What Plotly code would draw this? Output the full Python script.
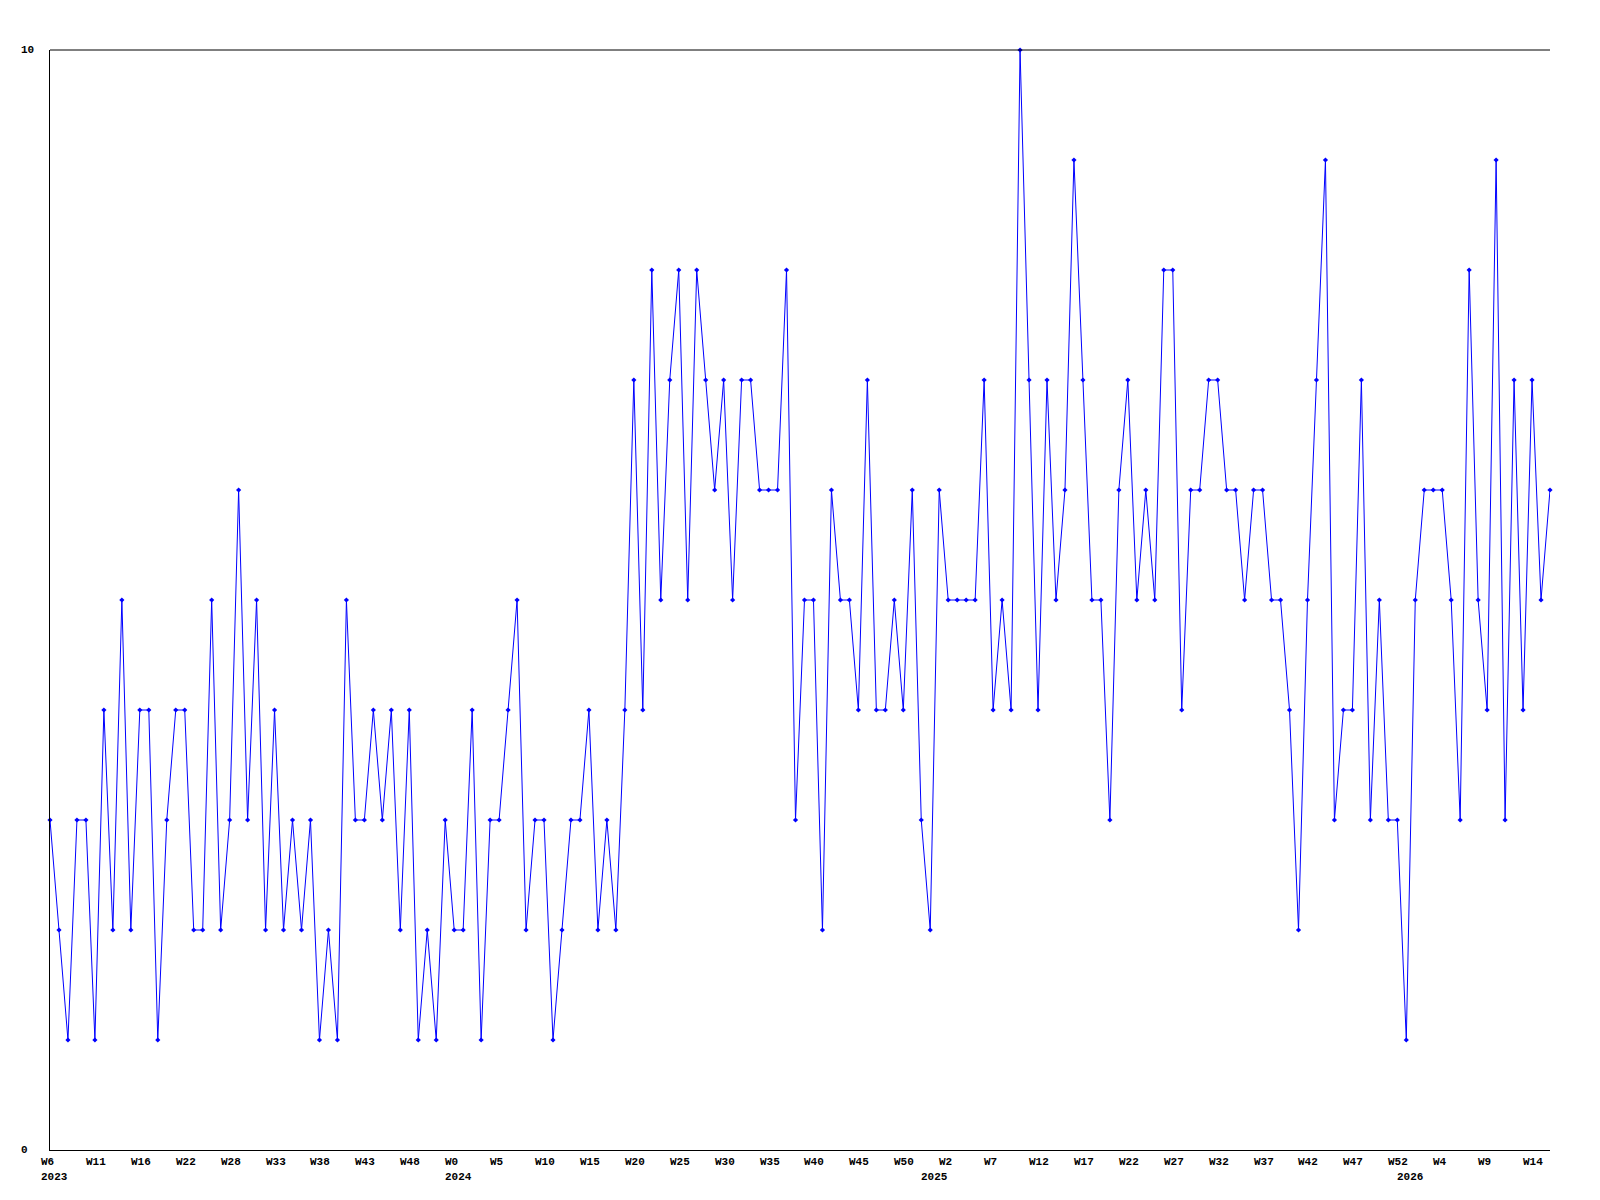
import plotly.graph_objects as go

# Weekly values, 2023 W6 .. 2026 W16 (168 points)
values = [
    3, 2, 1, 3, 3, 1, 4, 2, 5, 2,
    4, 4, 1, 3, 4, 4, 2, 2, 5, 2,
    3, 6, 3, 5, 2, 4, 2, 3, 2, 3,
    1, 2, 1, 5, 3, 3, 4, 3, 4, 2,
    4, 1, 2, 1, 3, 2, 2, 4, 1, 3,
    3, 4, 5, 2, 3, 3, 1, 2, 3, 3,
    4, 2, 3, 2, 4, 7, 4, 8, 5, 7,
    8, 5, 8, 7, 6, 7, 5, 7, 7, 6,
    6, 6, 8, 3, 5, 5, 2, 6, 5, 5,
    4, 7, 4, 4, 5, 4, 6, 3, 2, 6,
    5, 5, 5, 5, 7, 4, 5, 4, 10, 7,
    4, 7, 5, 6, 9, 7, 5, 5, 3, 6,
    7, 5, 6, 5, 8, 8, 4, 6, 6, 7,
    7, 6, 6, 5, 6, 6, 5, 5, 4, 2,
    5, 7, 9, 3, 4, 4, 7, 3, 5, 3,
    3, 1, 5, 6, 6, 6, 5, 3, 8, 5,
    4, 9, 3, 7, 4, 7, 5, 6,
]

# x tick labels, one every 5 points
tick_labels = [
    "W6", "W11", "W16", "W22", "W28", "W33", "W38", "W43", "W48",
    "W0", "W5", "W10", "W15", "W20", "W25", "W30", "W35", "W40", "W45", "W50",
    "W2", "W7", "W12", "W17", "W22", "W27", "W32", "W37", "W42", "W47", "W52",
    "W4", "W9", "W14",
]
tick_step = 5

# year labels and the point index where each year starts
year_labels = ["2023", "2024", "2025", "2026"]
year_index = [0, 45, 98, 151]

y_labels = ["0", "10"]
y_label_vals = [0, 10]

x = list(range(len(values)))

FONT = "Liberation Mono, DejaVu Sans Mono, monospace"
fig = go.Figure()
fig.add_trace(go.Scatter(
    x=x, y=values, mode="lines+markers",
    line=dict(color="#0000ff", width=1),
    marker=dict(color="#0000ff", size=4, symbol="diamond"),
    cliponaxis=False, showlegend=False,
))

annotations = []
for k, lab in enumerate(tick_labels):
    annotations.append(dict(
        x=k * tick_step, y=0, xref="x", yref="paper", text="<b>%s</b>" % lab,
        showarrow=False, xanchor="left", yanchor="middle", xshift=-11, yshift=-12,
        font=dict(family=FONT, size=11, color="black"),
    ))
for lab, idx in zip(year_labels, year_index):
    annotations.append(dict(
        x=idx, y=0, xref="x", yref="paper", text="<b>%s</b>" % lab,
        showarrow=False, xanchor="left", yanchor="middle", xshift=-11, yshift=-27,
        font=dict(family=FONT, size=11, color="black"),
    ))
for lab, v in zip(y_labels, y_label_vals):
    annotations.append(dict(
        x=0, y=v, xref="paper", yref="y", text="<b>%s</b>" % lab,
        showarrow=False, xanchor="left", yanchor="middle", xshift=-31,
        font=dict(family=FONT, size=11, color="black"),
    ))

fig.update_layout(
    width=1600, height=1200,
    margin=dict(l=42, r=58, t=42, b=58),
    paper_bgcolor="white", plot_bgcolor="white",
    annotations=annotations,
    xaxis=dict(range=[0, len(values) - 1], showgrid=False, zeroline=False,
               showticklabels=False, ticks="", showline=True, linecolor="black",
               linewidth=1, mirror=False),
    yaxis=dict(range=[0, 10], showgrid=False, zeroline=False,
               showticklabels=False, ticks="", showline=True, linecolor="black",
               linewidth=1),
    shapes=[dict(type="line", xref="paper", yref="paper", x0=0, x1=1, y0=1, y1=1,
                 line=dict(color="black", width=1))],
)

fig.write_html("out.html")
